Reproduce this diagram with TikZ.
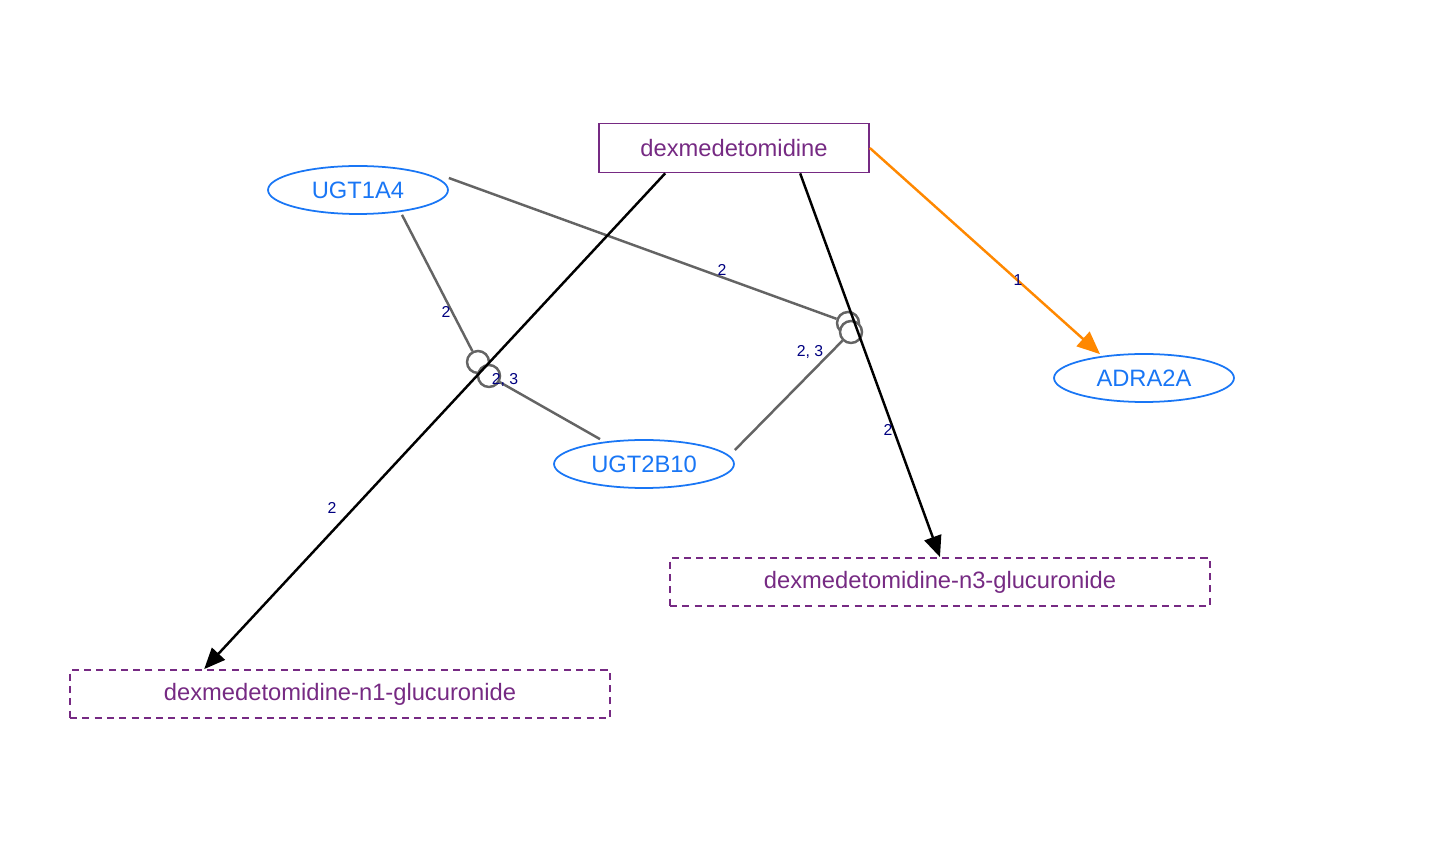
\documentclass[tikz,border=0pt]{standalone}
\usepackage{fontspec}
\setmainfont{Liberation Sans}
\usepackage{tikz}
\usetikzlibrary{positioning, arrows.meta, calc, shapes.geometric}
\definecolor{DrugPurple}{RGB}{118, 42, 131}
\definecolor{GeneBlue}{RGB}{25, 118, 245}
\definecolor{LabelNavy}{RGB}{0, 0, 128}
\definecolor{LinkGray}{RGB}{100, 100, 100}
\definecolor{TargetOrange}{RGB}{255, 136, 0}

\begin{document}
\begin{tikzpicture}[
  x=0.02cm, y=-0.02cm,
  every node/.style={font=\fontsize{13.5}{16}\selectfont},
  drug/.style={rectangle, draw=DrugPurple, line width=1pt, text=DrugPurple, minimum width=5.4cm, minimum height=0.98cm, inner sep=0pt},
  metab/.style={rectangle, draw=DrugPurple, line width=1pt, dash pattern=on 4pt off 3pt, text=DrugPurple, minimum width=10.8cm, minimum height=0.96cm, inner sep=0pt},
  gene/.style={ellipse, draw=GeneBlue, line width=1pt, text=GeneBlue, minimum width=3.6cm, minimum height=0.96cm, inner sep=0pt},
  hook/.style={circle, draw=LinkGray, line width=1.4pt, fill=white, minimum size=0.44cm, inner sep=0pt},
  lbl/.style={text=LabelNavy, font=\fontsize{9}{10}\selectfont, inner sep=1pt},
  arr/.style={-{Triangle[length=12pt, width=10pt]}, line width=1.4pt, black},
  hit/.style={-{Triangle[length=13pt, width=11pt]}, line width=1.4pt, TargetOrange},
  inh/.style={line width=1.4pt, LinkGray}
]
\useasboundingbox (0,0) rectangle (1438,864);

\node[drug] (dex) at (734,148) {dexmedetomidine};
\node[gene] (ugt1a4) at (358,190) {UGT1A4};
\node[gene] (adra) at (1144,378) {ADRA2A};
\node[gene] (ugt2b10) at (644,464) {UGT2B10};
\node[metab] (n3) at (940,582) {dexmedetomidine-n3-glucuronide};
\node[metab] (n1) at (340,694) {dexmedetomidine-n1-glucuronide};

% circles where the enzymes meet the reactions
\node[hook] (c1) at (478,362) {};
\node[hook] (c2) at (489,376) {};
\node[hook] (c3) at (848,323) {};
\node[hook] (c4) at (851,332) {};

\draw[inh] ($(ugt1a4.south)+(44,0)$) -- (c1);
\draw[inh] ($(ugt2b10.north)+(-44,0)$) -- (c2);
\draw[inh] ($(ugt1a4.east)+(0,-12)$) -- (c3);
\draw[inh] ($(ugt2b10.east)+(0,-14)$) -- (c4);

\draw[arr] ($(dex.south west)+(67,0)$) -- ($(n1.north west)+(135,0)$);
\draw[arr] ($(dex.south west)+(202,0)$) -- (n3.north);
\draw[hit] (dex.east) -- ($(adra.north)+(-44,1)$);

\node[lbl] (l1) at (446,312) {2};
\node[lbl] (l2) at (505,380) {2, 3};
\node[lbl] (l3) at (722,270) {2};
\node[lbl] (l4) at (810,352) {2, 3};
\node[lbl] (l5) at (332,508) {2};
\node[lbl] (l6) at (888,430) {2};
\node[lbl] (l7) at (1018,280) {1};
\end{tikzpicture}
\end{document}
